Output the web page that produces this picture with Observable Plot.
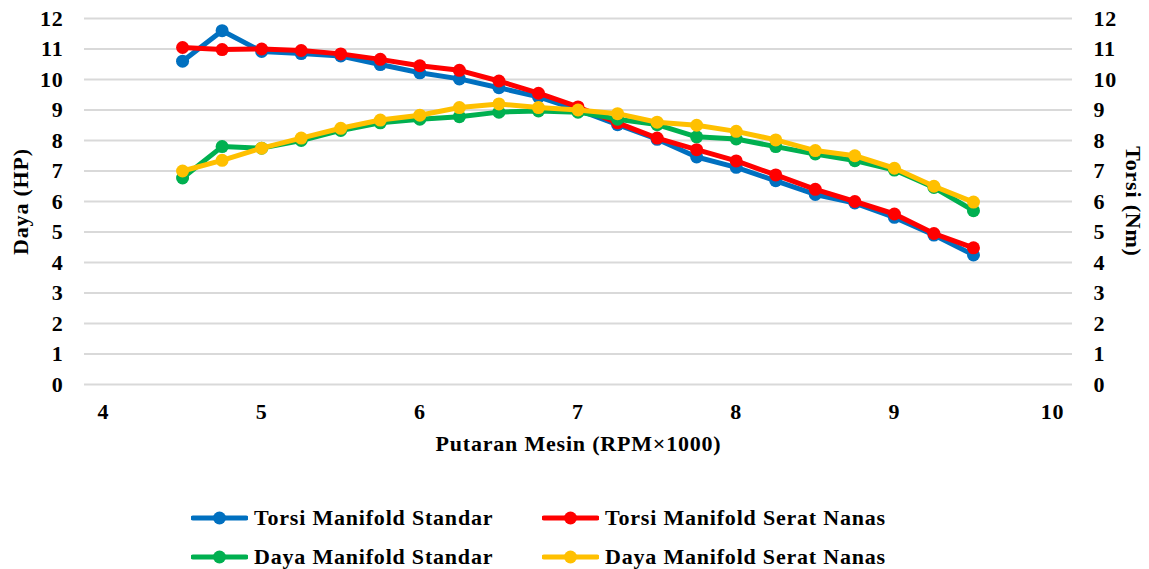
<!DOCTYPE html>
<html>
<head>
<meta charset="utf-8">
<script src="https://cdn.jsdelivr.net/npm/d3@7"></script>
<script src="https://cdn.jsdelivr.net/npm/@observablehq/plot@0.6"></script>
<style>
  html, body { margin: 0; padding: 0; background: #fff; }
  #wrap { position: relative; width: 1149px; height: 569px; font-family: "Liberation Serif", "Tinos", "DejaVu Serif", serif; font-weight: bold; }
  #legend { position: absolute; left: 191px; top: 498px; display: grid; grid-template-columns: 351px 420px; grid-auto-rows: 39px; font-size: 22px; letter-spacing: 0.8px; color: #000; }
  .item { display: flex; align-items: center; white-space: nowrap; }
  .item svg { margin-right: 6px; flex-shrink: 0; }
</style>
</head>
<body>
<div id="wrap"><div id="chart"></div><div id="legend"></div></div>
<script>
const rpm = [4.5, 4.75, 5.0, 5.25, 5.5, 5.75, 6.0, 6.25, 6.5, 6.75, 7.0, 7.25, 7.5, 7.75, 8.0, 8.25, 8.5, 8.75, 9.0, 9.25, 9.5];
const torsiStandar = [10.6, 11.6, 10.92, 10.85, 10.77, 10.49, 10.22, 10.02, 9.73, 9.43, 9.0, 8.52, 8.04, 7.46, 7.12, 6.68, 6.23, 5.95, 5.48, 4.9, 4.25];
const torsiSerat   = [11.05, 10.98, 11.0, 10.95, 10.84, 10.66, 10.45, 10.3, 9.95, 9.55, 9.1, 8.58, 8.08, 7.7, 7.33, 6.87, 6.4, 6.0, 5.59, 4.95, 4.48];
const dayaStandar  = [6.77, 7.8, 7.75, 8.0, 8.33, 8.58, 8.7, 8.78, 8.93, 8.97, 8.93, 8.7, 8.52, 8.12, 8.05, 7.8, 7.56, 7.34, 7.03, 6.46, 5.7];
const dayaSerat    = [7.0, 7.35, 7.75, 8.08, 8.4, 8.67, 8.83, 9.08, 9.2, 9.08, 9.0, 8.88, 8.6, 8.5, 8.3, 8.02, 7.67, 7.5, 7.09, 6.5, 5.98];
const seriesNames = ["Torsi Manifold Standar", "Torsi Manifold Serat Nanas", "Daya Manifold Standar", "Daya Manifold Serat Nanas"];
const seriesColors = ["#0070C0", "#FF0000", "#00B050", "#FFC000"];
const xTicks = [4, 5, 6, 7, 8, 9, 10];
const yTicks = [0, 1, 2, 3, 4, 5, 6, 7, 8, 9, 10, 11, 12];
const xTitle = "Putaran Mesin (RPM×1000)";
const yLeftTitle = "Daya (HP)";
const yRightTitle = "Torsi (Nm)";

const FONT = "'Liberation Serif', 'Tinos', 'DejaVu Serif', serif";

const allValues = [torsiStandar, torsiSerat, dayaStandar, dayaSerat];
const seriesMarks = allValues.flatMap((vals, i) => {
  const d = rpm.map((x, j) => ({x, y: vals[j]}));
  return [
    Plot.line(d, {x: "x", y: "y", stroke: seriesColors[i], strokeWidth: 5, strokeLinejoin: "round"}),
    Plot.dot(d, {x: "x", y: "y", r: 6.5, fill: seriesColors[i], stroke: "none"})
  ];
});

const chart = Plot.plot({
  width: 1149,
  height: 480,
  marginLeft: 84,
  marginRight: 77,
  marginTop: 18,
  marginBottom: 96,
  style: {fontFamily: FONT, fontSize: "22px", fontWeight: "bold", letterSpacing: "0.8px", color: "#000", background: "#fff"},
  x: {domain: [3.88, 10.126]},
  y: {domain: [0, 12]},
  marks: [
    Plot.gridY(yTicks, {stroke: "#d9d9d9", strokeOpacity: 1, strokeWidth: 2}),
    Plot.axisX(xTicks, {tickSize: 0, tickPadding: 19, label: null, tickFormat: d3.format("d")}),
    Plot.axisY(yTicks, {anchor: "left", tickSize: 0, tickPadding: 21, label: null, tickFormat: d3.format("d")}),
    Plot.axisY(yTicks, {anchor: "right", tickSize: 0, tickPadding: 21, label: null, tickFormat: d3.format("d")}),
    ...seriesMarks,
    Plot.text([xTitle], {frameAnchor: "bottom", dy: 66, textAnchor: "middle", fontSize: 22, fontWeight: "bold"}),
    Plot.text([yLeftTitle], {frameAnchor: "left", dx: -64, rotate: -90, textAnchor: "middle", fontSize: 22, fontWeight: "bold"}),
    Plot.text([yRightTitle], {frameAnchor: "right", dx: 61, rotate: 90, textAnchor: "middle", fontSize: 22, fontWeight: "bold"})
  ]
});
document.getElementById("chart").appendChild(chart);

const legend = document.getElementById("legend");
seriesNames.forEach((name, i) => {
  const item = document.createElement("div");
  item.className = "item";
  const c = seriesColors[i];
  item.innerHTML = `<svg width="57" height="16"><line x1="2" y1="8" x2="55" y2="8" stroke="${c}" stroke-width="5" stroke-linecap="round"/><circle cx="28.5" cy="8" r="6.5" fill="${c}"/></svg><span>${name}</span>`;
  legend.appendChild(item);
});
</script>
</body>
</html>
